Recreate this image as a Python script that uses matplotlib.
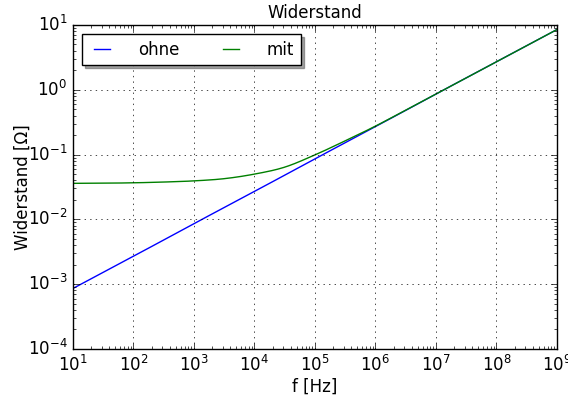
import numpy as np
import matplotlib
matplotlib.use("Agg")
import matplotlib.pyplot as plt

plt.style.use("classic")

# values (f in Hz, R in Ohm)
f_ohne = [1e1, 1e2, 1e3, 1e4, 1e5, 1e6, 1e7, 1e8, 1e9]
r_ohne = [8.6e-4, 2.7e-3, 8.6e-3, 0.027, 0.086, 0.27, 0.86, 2.7, 8.5]

f_mit = [1e1, 3.16e1, 1e2, 3.16e2, 1e3, 3.16e3, 1e4, 3.16e4, 1e5,
         3.16e5, 1e6, 3.16e6, 1e7, 1e8, 1e9]
r_mit = [0.0360, 0.0362, 0.0367, 0.0377, 0.0393, 0.0425, 0.050, 0.064, 0.099,
         0.163, 0.275, 0.485, 0.86, 2.7, 8.5]


# catmull-rom through the read points in log-log space, only to smooth the curve
def smooth(fx, ry, n=30):
    lx = np.log10(fx)
    ly = np.log10(ry)
    px = np.concatenate([[2*lx[0]-lx[1]], lx, [2*lx[-1]-lx[-2]]])
    py = np.concatenate([[2*ly[0]-ly[1]], ly, [2*ly[-1]-ly[-2]]])
    xs, ys = [], []
    t = np.linspace(0, 1, n, endpoint=False)
    for i in range(1, len(px) - 2):
        for p, out in ((px, xs), (py, ys)):
            p0, p1, p2, p3 = p[i-1], p[i], p[i+1], p[i+2]
            out.append(0.5*((2*p1) + (-p0 + p2)*t + (2*p0 - 5*p1 + 4*p2 - p3)*t**2
                            + (-p0 + 3*p1 - 3*p2 + p3)*t**3))
    xs.append([lx[-1]])
    ys.append([ly[-1]])
    return 10**np.concatenate(xs), 10**np.concatenate(ys)


fig = plt.figure(figsize=(5.68, 4.03), dpi=100, facecolor="white")
ax = fig.add_axes([0.1285, 0.134, 0.852, 0.804])

x1, y1 = smooth(f_ohne, r_ohne)
x2, y2 = smooth(f_mit, r_mit)
ax.loglog(x1, y1, "b-", label="ohne")
ax.loglog(x2, y2, "g-", label="mit")

ax.set_xlim(1e1, 1e9)
ax.set_ylim(1e-4, 1e1)
ax.set_title("Widerstand", fontsize=12)
ax.set_xlabel("f [Hz]", labelpad=2)
ax.set_ylabel("Widerstand [\u03a9]", labelpad=-3)
ax.grid(True)
ax.legend(loc="upper left", ncol=2, shadow=True, fontsize=12,
          handlelength=1.55, handletextpad=1.4, columnspacing=2.3,
          borderaxespad=0.55)

fig.savefig("out.png", dpi=100, facecolor="white")
